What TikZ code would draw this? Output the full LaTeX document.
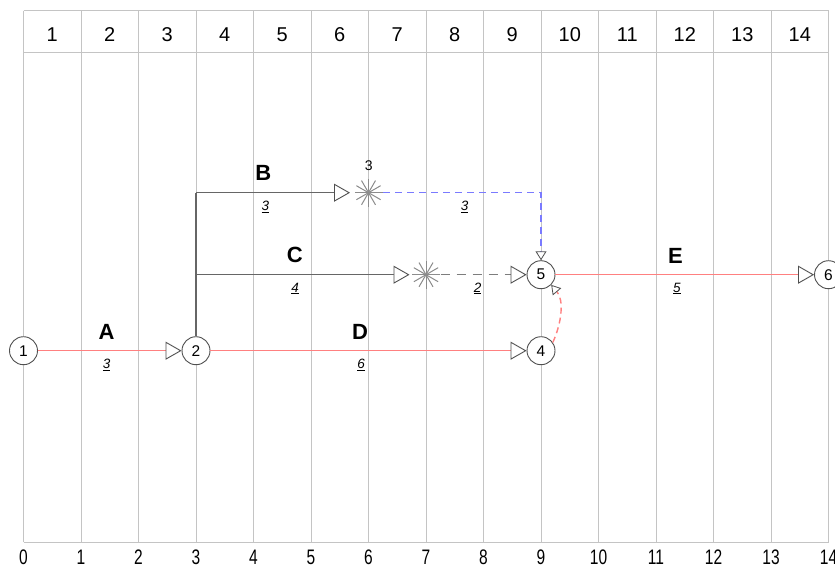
\documentclass[tikz,border=0pt]{standalone}
\usepackage{fontspec}
\setmainfont{Liberation Sans}
\usetikzlibrary{arrows.meta}
\definecolor{gridc}{HTML}{C4C4C4}
\definecolor{darkc}{HTML}{666666}
\definecolor{redc}{HTML}{FF8080}
\definecolor{bluec}{HTML}{7A7AFF}
\definecolor{starc}{HTML}{8C8C8C}
\definecolor{circc}{HTML}{505050}
\tikzset{
  bigtip/.tip={Triangle[length=16pt,width=18pt,fill=white,color=circc,line width=0.9pt]},
  smalltip/.tip={Triangle[length=9pt,width=11pt,fill=white,color=circc,line width=0.8pt]},
}
\begin{document}
\begin{tikzpicture}[x=1pt,y=-1pt,
  gridln/.style={gridc,line width=1pt},
  darkln/.style={darkc,line width=1.3pt},
  redln/.style={redc,line width=1.5pt},
  bluedash/.style={bluec,line width=1.3pt,dash pattern=on 7pt off 5pt},
  graydash/.style={darkc!85,line width=1.4pt,dash pattern=on 9pt off 7pt},
  reddash/.style={redc,line width=1.4pt,dash pattern=on 6pt off 4pt},
  starln/.style={starc,line width=1pt},
  evt/.style={circle,draw=circc,line width=0.9pt,fill=white,minimum size=28pt,inner sep=0pt,font=\fontsize{15.5}{16}\selectfont},
  hdr/.style={anchor=base,inner sep=0pt,font=\fontsize{20}{20}\selectfont},
  ftr/.style={anchor=base,inner sep=0pt,xscale=0.74,font=\fontsize{21}{21}\selectfont},
  lbl/.style={anchor=base,inner sep=0pt,font=\fontsize{22}{22}\selectfont\bfseries},
  dur/.style={anchor=base,inner sep=0pt,font=\fontsize{13.5}{14}\selectfont},
  tiny/.style={anchor=base,inner sep=0pt,font=\fontsize{14}{14}\selectfont},
]
\useasboundingbox (0,0) rectangle (835,567);
\fill[white] (0,0) rectangle (835,567);
% grid
\foreach \k in {0,...,14} \draw[gridln] ({23.5+57.5*\k},10.7) -- ({23.5+57.5*\k},542.3);
\foreach \yy in {10.7,52.7,542.3} \draw[gridln] (23.5,\yy) -- (828.5,\yy);
\foreach \k in {1,...,14} \node[hdr] (h\k) at ({23.5+57.5*(\k-0.5)},41.7) {\k};
\foreach \k in {0,...,14} \node[ftr] (f\k) at ({23.5+57.5*\k},564) {\k};
% events
\node[evt] (n1) at (23.5,350.7) {1};
\node[evt] (n2) at (196,350.7) {2};
\node[evt] (n4) at (541,350.7) {4};
\node[evt] (n5) at (541,274.7) {5};
\node[evt] (n6) at (828.5,274.7) {6};
% helper coordinates
\coordinate (sB) at (368.5,192.7);
\coordinate (sC) at (426,274.7);
\coordinate (jB) at (196,192.7);
\coordinate (jC) at (196,274.7);
\coordinate (bEnd) at (350,192.7);
\coordinate (cEnd) at (409.5,274.7);
\coordinate (bOut) at (383,192.7);
\coordinate (cOut) at (440.5,274.7);
% stars
\foreach \a in {0,30,...,150} {
  \draw[starln] (sB) ++(\a:14) -- ++(\a+180:28);
  \draw[starln] (sC) ++(\a:14) -- ++(\a+180:28);
}
% activities
\draw[redln,-{bigtip}] (n1) -- (n2);
\draw[redln,-{bigtip}] (n2) -- (n4);
\draw[redln,-{bigtip}] (n5) -- (n6);
\draw[darkln] (n2.north) -- (jB);
\draw[darkln,-{bigtip}] (jB) -- (bEnd);
\draw[darkln,-{bigtip}] (jC) -- (cEnd);
\draw[bluedash,-{smalltip}] (bOut) -| (n5.north);
\draw[graydash,-{bigtip}] (cOut) -- (n5.west);
\draw[reddash,-{smalltip}] (n4.35) .. controls (562,322) and (564,300) .. (n5.-45);
% labels
\node[lbl] (lA) at (106.5,339) {A};
\node[dur] (dA) at (106.7,368.5) {\underline{\textit{3}}};
\node[lbl] (lB) at (263.3,180.7) {B};
\node[dur] (dB) at (265.3,210.5) {\underline{\textit{3}}};
\node[tiny] (tB) at (368.8,170) {3};
\node[dur] (dBf) at (464.7,210.5) {\underline{\textit{3}}};
\node[lbl] (lC) at (294.7,262.8) {C};
\node[dur] (dC) at (295,292) {\underline{\textit{4}}};
\node[dur] (dCf) at (477.5,292) {\underline{\textit{2}}};
\node[lbl] (lD) at (360,339) {D};
\node[dur] (dD) at (361,368.5) {\underline{\textit{6}}};
\node[lbl] (lE) at (675.5,263.3) {E};
\node[dur] (dE) at (677,292) {\underline{\textit{5}}};
\end{tikzpicture}
\end{document}
